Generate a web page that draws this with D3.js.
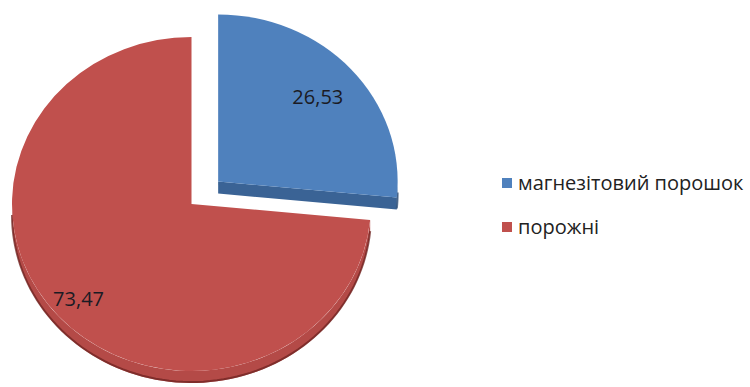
<!DOCTYPE html>
<html><head><meta charset="utf-8">
<script src="https://cdn.jsdelivr.net/npm/d3@7"></script>
<style>body{margin:0;background:#fff}</style></head><body>
<svg id="c" width="750" height="387"></svg>
<script>
const categories = ["магнезітовий порошок", "порожні"];
const values = [26.53, 73.47];
const valueLabels = ["26,53", "73,47"];
const colors = ["#4F81BD", "#C0504D"];
const sideColors = ["#3A6395", "#B44A47"];
const edgeColors = ["#2c4c74", "#6e2422"];

const svg = d3.select("#c");
const cx = 191.5, cy = 204, rx = 179.5, ry = 167, depth = 12;
const explode = [36, 0];
const labelR = [0.75, 0.85];
const k = ry / rx;

const pie = d3.pie().sort(null).value(d => d)(values);
const centers = pie.map((p, i) => {
  const m = (p.startAngle + p.endAngle) / 2;
  return [cx + explode[i] * Math.sin(m), cy - explode[i] * Math.cos(m) * k];
});
function pt(a, r, c, dz) { return [c[0] + r * rx * Math.sin(a), c[1] - r * ry * Math.cos(a) + dz]; }
const line = d3.line();

function drawSlice(i) {
  const p = pie[i], c = centers[i];
  const g = svg.append("g");
  [[p.endAngle, Math.sin(p.endAngle) > 0.01], [p.startAngle, Math.sin(p.startAngle) < -0.01]].forEach(([a, vis]) => {
    if (!vis) return;
    const poly = [pt(a, 0, c, 0), pt(a, 1, c, 0), pt(a, 1, c, depth), pt(a, 0, c, depth)];
    g.append("path").attr("d", line(poly) + "Z").attr("fill", sideColors[i]);
  });
  const a0 = Math.max(p.startAngle, Math.PI / 2), a1 = Math.min(p.endAngle, 3 * Math.PI / 2);
  if (a1 > a0) {
    const n = 80;
    const angs = d3.range(n + 1).map(j => a0 + (a1 - a0) * j / n);
    const poly = angs.map(a => pt(a, 1, c, 0)).concat(angs.slice().reverse().map(a => pt(a, 1, c, depth)));
    g.append("path").attr("d", line(poly) + "Z").attr("fill", sideColors[i]);
    g.append("path").attr("d", line(angs.map(a => pt(a, 1, c, depth - 1))))
      .attr("fill", "none").attr("stroke", edgeColors[i]).attr("stroke-width", 2).attr("opacity", 0.75);
  }
  const arc = d3.arc().innerRadius(0).outerRadius(rx);
  g.append("path").attr("d", arc(p))
    .attr("transform", `translate(${c[0]},${c[1]}) scale(1,${k})`)
    .attr("fill", colors[i]);
  const m = (p.startAngle + p.endAngle) / 2;
  const lp = pt(m, labelR[i], c, 0);
  svg.append("text").attr("x", lp[0]).attr("y", lp[1]).attr("dy", "0.35em")
    .attr("text-anchor", "middle").attr("font-family", "Open Sans, sans-serif")
    .attr("font-size", 20).attr("fill", "#1b1b24").text(valueLabels[i]);
}
drawSlice(1);
drawSlice(0);

const lg = svg.append("g");
categories.forEach((cat, i) => {
  const y = 183 + i * 44;
  lg.append("rect").attr("x", 502).attr("y", y - 5).attr("width", 10).attr("height", 10).attr("fill", colors[i]);
  lg.append("text").attr("x", 518).attr("y", y).attr("dy", "0.35em")
    .attr("font-family", "Open Sans, sans-serif").attr("font-size", 20).attr("fill", "#222").text(cat);
});
</script>
</body></html>
